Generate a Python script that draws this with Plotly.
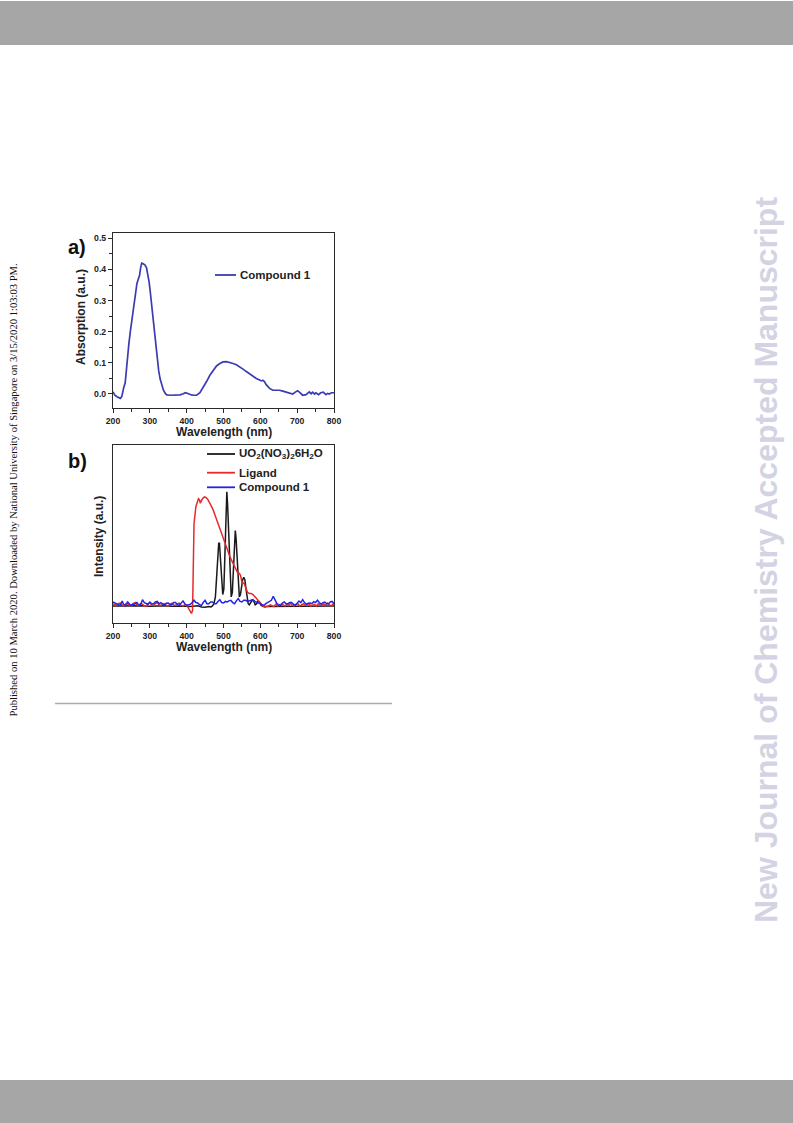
import plotly.graph_objects as go

W, H = 793, 1123

# ---------------- data: panel a (absorption) ----------------
wl_a = [200, 205, 211, 216, 220, 224, 227, 229, 233, 238, 243, 247, 252, 256, 261, 265, 269, 272, 275, 278,
        282, 287, 291, 294, 298, 301, 306, 310, 315, 319, 324, 328, 333, 337, 342, 346, 355, 364, 373, 382,
        391, 396, 400, 405, 413, 420, 427, 436, 445, 454, 463, 472, 481, 490, 499, 508, 517, 526, 535, 544,
        553, 562, 571, 580, 589, 598, 603, 607, 611, 616, 625, 634, 643, 652, 661, 670, 679, 688, 695, 701,
        706, 715, 724, 733, 738, 742, 747, 751, 758, 764, 771, 778, 783, 787, 793, 800]
abs_compound1 = [0.007, -0.004, -0.009, -0.012, -0.014, -0.008, 0.015, 0.020, 0.035, 0.11, 0.16, 0.20, 0.245,
                 0.28, 0.32, 0.355, 0.37, 0.38, 0.405, 0.42, 0.418, 0.414, 0.405, 0.39, 0.36, 0.33, 0.275,
                 0.22, 0.165, 0.115, 0.075, 0.048, 0.025, 0.012, 0.002, -0.003, -0.004, -0.003, -0.004,
                 -0.003, 0.001, 0.004, 0.003, 0.000, -0.003, -0.004, -0.004, 0.004, 0.02, 0.04, 0.06, 0.077,
                 0.09, 0.098, 0.103, 0.104, 0.102, 0.098, 0.094, 0.088, 0.080, 0.072, 0.064, 0.056, 0.05,
                 0.045, 0.042, 0.044, 0.040, 0.030, 0.018, 0.012, 0.013, 0.012, 0.009, 0.006, 0.002, 0.000,
                 0.006, 0.010, 0.006, -0.004, -0.002, 0.007, 0.001, 0.006, 0.000, 0.004, -0.002, 0.004,
                 0.006, -0.002, 0.002, 0.000, 0.004, 0.004]

# ---------------- data: panel b (emission) ----------------
wl_uo2 = [200, 220, 240, 260, 280, 300, 320, 340, 360, 380, 400, 410, 420, 430, 440, 450, 460, 466, 470, 474,
          478, 481, 484, 487, 489, 492, 495, 498, 501, 503, 505, 507, 509, 511, 513, 515, 518, 521, 524, 527,
          530, 532, 534, 537, 540, 543, 546, 549, 552, 555, 558, 561, 564, 567, 570, 574, 578, 582, 586, 590,
          594, 598, 602, 608, 620, 640, 660, 680, 700, 720, 740, 760, 780, 800]
int_uo2 = [0.0, 0.002, -0.002, 0.0, 0.003, -0.002, 0.0, 0.002, -0.003, 0.0, -0.003, -0.005, -0.003, 0.002,
           -0.008, -0.01, -0.005, -0.008, 0.0, 0.02, 0.08, 0.25, 0.44, 0.55, 0.55, 0.42, 0.22, 0.10, 0.15, 0.35,
           0.70, 0.93, 1.0, 0.90, 0.72, 0.45, 0.20, 0.08, 0.12, 0.34, 0.58, 0.66, 0.60, 0.43, 0.20, 0.08, 0.10,
           0.17, 0.23, 0.25, 0.23, 0.15, 0.07, 0.02, 0.01, 0.03, 0.05, 0.045, 0.01, 0.02, 0.044, 0.035, 0.005,
           -0.005, -0.005, 0.0, -0.003, 0.0, -0.002, 0.0, -0.003, 0.0, -0.002, 0.0]

wl_ligand = [200, 205, 210, 215, 220, 225, 230, 235, 240, 245, 250, 255, 260, 265, 270, 275, 280, 285, 290, 295,
             300, 305, 310, 315, 320, 325, 330, 335, 340, 345, 350, 355, 360, 365, 370, 375, 380, 385, 390, 395,
             400, 405, 410, 413, 416, 418, 420, 425, 429, 432, 435, 437, 440, 443, 448, 452, 457, 462, 467, 472,
             477, 482, 487, 492, 497, 502, 507, 512, 517, 522, 527, 532, 536, 540, 543, 546, 550, 553, 556, 560,
             565, 570, 575, 580, 585, 592, 597, 602, 607, 612, 617, 622, 627, 632, 637, 642, 647, 652, 657, 662,
             667, 672, 677, 682, 687, 692, 697, 702, 707, 712, 717, 722, 727, 732, 737, 742, 747, 752, 757, 762,
             767, 772, 777, 782, 787, 792, 797, 800]
int_ligand = [0.02, 0.01, 0.005, 0.022, 0.025, 0.01, 0.0, 0.015, 0.02, 0.005, 0.005, 0.02, 0.03, 0.01, 0.005,
              0.02, 0.015, 0.0, 0.0, 0.02, 0.025, 0.01, 0.005, 0.02, 0.03, 0.01, 0.005, 0.015, 0.02, 0.005, 0.0,
              0.015, 0.025, 0.01, 0.005, 0.02, 0.025, 0.005, 0.0, 0.01, 0.005, -0.02, -0.05, -0.065, -0.04, 0.4,
              0.72, 0.87, 0.92, 0.94, 0.93, 0.90, 0.92, 0.94, 0.955, 0.95, 0.935, 0.91, 0.875, 0.84, 0.795, 0.75,
              0.70, 0.65, 0.605, 0.56, 0.515, 0.47, 0.435, 0.40, 0.365, 0.33, 0.30, 0.28, 0.285, 0.27, 0.21, 0.20,
              0.20, 0.16, 0.12, 0.11, 0.11, 0.10, 0.085, 0.056, 0.035, 0.015, 0.0, -0.01, -0.008, 0.0, 0.01, 0.005,
              -0.005, 0.015, 0.0, 0.005, 0.015, 0.01, 0.0, 0.015, 0.005, 0.025, 0.005, 0.0, 0.015, 0.02, 0.0, 0.01,
              0.02, 0.005, 0.01, 0.02, 0.0, 0.01, 0.015, 0.0, 0.02, 0.01, 0.005, 0.02, 0.005, 0.025, 0.01, 0.0,
              0.015, 0.01]

wl_comp = [200, 205, 210, 215, 218, 222, 225, 228, 232, 236, 240, 244, 248, 253, 258, 262, 265, 268, 272, 276,
           280, 285, 290, 295, 300, 305, 310, 315, 320, 325, 330, 335, 340, 345, 350, 355, 360, 365, 370, 375,
           380, 385, 390, 395, 400, 405, 410, 415, 420, 425, 430, 435, 440, 445, 450, 455, 460, 465, 470, 475,
           480, 485, 490, 495, 500, 505, 510, 515, 520, 525, 530, 535, 540, 545, 550, 555, 560, 565, 570, 575,
           580, 585, 590, 595, 600, 605, 610, 615, 620, 625, 630, 635, 640, 645, 650, 655, 660, 665, 670, 675,
           680, 685, 690, 695, 700, 705, 710, 715, 720, 725, 730, 735, 740, 745, 750, 755, 760, 765, 770, 775,
           780, 785, 790, 795, 800]
int_comp = [0.035, 0.025, 0.02, 0.01, 0.006, 0.02, 0.044, 0.02, 0.006, 0.02, 0.035, 0.02, 0.006, 0.015, 0.015,
            0.025, 0.03, 0.015, 0.006, 0.02, 0.055, 0.03, 0.02, 0.015, 0.035, 0.02, 0.02, 0.035, 0.04, 0.02, 0.03,
            0.015, 0.006, 0.025, 0.026, 0.01, 0.015, 0.03, 0.03, 0.01, 0.006, 0.025, 0.044, 0.02, 0.006, 0.01,
            0.015, 0.03, 0.05, 0.03, 0.026, 0.01, 0.006, 0.03, 0.05, 0.02, 0.02, 0.035, 0.035, 0.02, 0.02, 0.04,
            0.055, 0.03, 0.026, 0.04, 0.035, 0.045, 0.05, 0.03, 0.02, 0.045, 0.065, 0.04, 0.035, 0.05, 0.05, 0.04,
            0.044, 0.05, 0.055, 0.04, 0.035, 0.03, 0.02, 0.01, 0.006, 0.02, 0.03, 0.035, 0.05, 0.085, 0.05, 0.02,
            0.01, 0.006, 0.025, 0.035, 0.02, 0.02, 0.03, 0.03, 0.015, 0.006, 0.025, 0.044, 0.03, 0.055, 0.03,
            0.015, 0.025, 0.026, 0.02, 0.038, 0.03, 0.05, 0.03, 0.015, 0.03, 0.035, 0.02, 0.02, 0.035, 0.04, 0.02]

x_ticks = [200, 300, 400, 500, 600, 700, 800]
y_ticks_a = [0.0, 0.1, 0.2, 0.3, 0.4, 0.5]

# ---------------- styles ----------------
C_A = "#3b3bb3"
C_BLACK = "#1a1a1a"
C_RED = "#e62a2a"
C_BLUE = "#2424e6"
FONT = "Liberation Sans"
AX = "#2b2b2b"


def px(x):
    return x / W


def py(y):
    return 1 - y / H


fig = go.Figure()
fig.add_trace(go.Scatter(x=wl_a, y=abs_compound1, mode="lines", line=dict(color=C_A, width=1.7),
                         xaxis="x", yaxis="y", showlegend=False, name="Compound 1"))
fig.add_trace(go.Scatter(x=wl_uo2, y=int_uo2, mode="lines", line=dict(color=C_BLACK, width=1.5),
                         xaxis="x2", yaxis="y2", showlegend=False, name="UO2(NO3)2 6H2O"))
fig.add_trace(go.Scatter(x=wl_ligand, y=int_ligand, mode="lines", line=dict(color=C_RED, width=1.5),
                         xaxis="x2", yaxis="y2", showlegend=False, name="Ligand"))
fig.add_trace(go.Scatter(x=wl_comp, y=int_comp, mode="lines", line=dict(color=C_BLUE, width=1.5),
                         xaxis="x2", yaxis="y2", showlegend=False, name="Compound 1"))

xdom = [px(113), px(334)]
tickfont = dict(family=FONT, size=8.7, color="#222", weight="bold")
common_x = dict(range=[200, 800], tickvals=x_ticks, ticks="outside", ticklen=4, tickwidth=1,
                tickcolor=AX, showline=True, linecolor=AX, linewidth=1.2, mirror=True,
                showgrid=False, zeroline=False, tickfont=tickfont,
                minor=dict(dtick=50, ticks="outside", ticklen=2.5, tickcolor=AX, tickwidth=1))

fig.update_layout(
    width=W, height=H, margin=dict(l=0, r=0, t=0, b=0, autoexpand=False),
    paper_bgcolor="white", plot_bgcolor="white", showlegend=False,
    xaxis=dict(domain=xdom, anchor="y", **common_x),
    yaxis=dict(domain=[py(408), py(233)], anchor="x", range=[-0.045, 0.517], tickvals=y_ticks_a,
               tickformat=".1f", ticks="outside", ticklen=4, tickwidth=1, tickcolor=AX,
               showline=True, linecolor=AX, linewidth=1.2, mirror=True, showgrid=False,
               zeroline=False, tickfont=tickfont,
               minor=dict(dtick=0.05, ticks="outside", ticklen=2.5, tickcolor=AX, tickwidth=1)),
    xaxis2=dict(domain=xdom, anchor="y2", **common_x),
    yaxis2=dict(domain=[py(623), py(445)], anchor="x2", range=[-0.149, 1.41], showticklabels=False,
                ticks="", showline=True, linecolor=AX, linewidth=1.2, mirror=True, showgrid=False,
                zeroline=False),
)

shapes = []
annotations = []


def note(text, x, y, font, angle=0, xanchor="center"):
    annotations.append(dict(text=text, x=px(x), y=py(y), xref="paper", yref="paper", showarrow=False,
                            textangle=angle, xanchor=xanchor, yanchor="middle", font=font))


# page decorations
shapes.append(dict(type="rect", xref="paper", yref="paper", x0=0, x1=1, y0=py(45), y1=py(1),
                   fillcolor="#a6a6a6", line=dict(width=0), layer="below"))
shapes.append(dict(type="rect", xref="paper", yref="paper", x0=0, x1=1, y0=0, y1=py(1080),
                   fillcolor="#a6a6a6", line=dict(width=0), layer="below"))
shapes.append(dict(type="line", xref="paper", yref="paper", x0=px(55), x1=px(392), y0=py(703.5),
                   y1=py(703.5), line=dict(color="#ababab", width=1.6)))

note("New Journal of Chemistry Accepted Manuscript", 766, 560,
     dict(family=FONT, size=32, color="#d3d3e3", weight="bold"), angle=-90)
note("Published on 10 March 2020. Downloaded by National University of Singapore on 3/15/2020 1:03:03 PM.",
     12.5, 490, dict(family="Liberation Serif", size=10.6, color="#111"), angle=-90)

# panel labels
title_font = dict(family=FONT, size=12, color="#222", weight="bold")
note("a)", 77, 247, dict(family=FONT, size=20, color="#111", weight="bold"))
note("b)", 77, 461, dict(family=FONT, size=20, color="#111", weight="bold"))

# axis titles
note("Wavelength (nm)", 223.5, 432, title_font)
note("Wavelength (nm)", 223.5, 647, title_font)
note("Absorption (a.u.)", 81, 317, title_font, angle=-90)
note("Intensity (a.u.)", 99, 537, title_font, angle=-90)

# legends
leg_font = dict(family=FONT, size=11.5, color="#222", weight="bold")


def legend_entry(x0, x1, y, color, text):
    shapes.append(dict(type="line", xref="paper", yref="paper", x0=px(x0), x1=px(x1), y0=py(y), y1=py(y),
                       line=dict(color=color, width=1.8)))
    note(text, x1 + 2, y, leg_font, xanchor="left")


legend_entry(215, 236, 275, C_A, "Compound 1")
legend_entry(207, 235, 454, C_BLACK, "UO<sub>2</sub>(NO<sub>3</sub>)<sub>2</sub>6H<sub>2</sub>O")
legend_entry(207, 235, 472.7, C_RED, "Ligand")
legend_entry(207, 235, 487.3, C_BLUE, "Compound 1")

fig.update_layout(shapes=shapes, annotations=annotations)
fig.write_html("out.html", config={"displayModeBar": False},
               post_script="document.body.style.margin='0';document.body.style.overflow='hidden';")
